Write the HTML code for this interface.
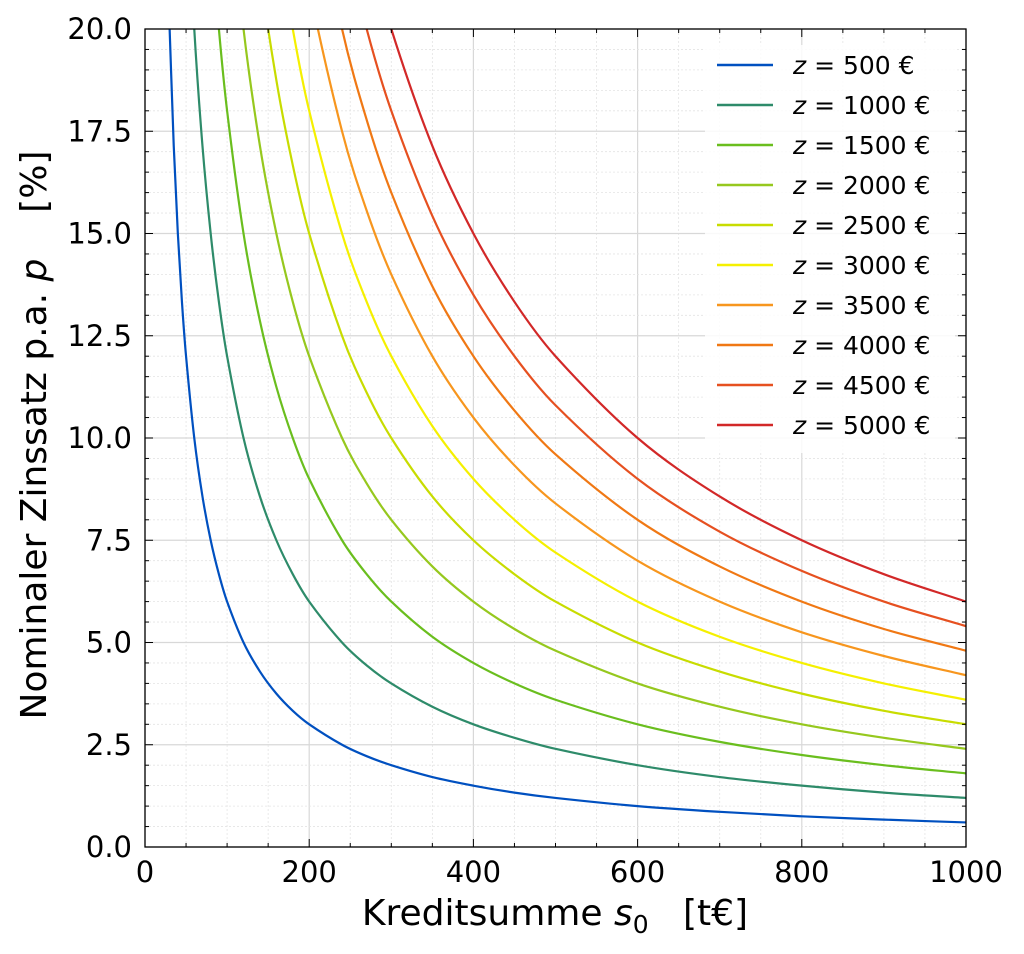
<!DOCTYPE html>
<html><head><meta charset="utf-8"><style>
body{margin:0;background:#fff;}
svg text{font-family:"DejaVu Sans","Liberation Sans",sans-serif;white-space:pre;}
</style></head><body>
<svg id="chart" width="1024" height="949" viewBox="0 0 1024 949">
<defs><clipPath id="pc"><rect x="145" y="29" width="821" height="818"/></clipPath></defs>
<g id="grid"></g>
<g id="series" clip-path="url(#pc)"></g>
<rect x="145" y="29" width="821" height="818" fill="none" stroke="#000" stroke-width="1.3"/>
<g id="ticks"></g>
<g id="legend"></g>
<text x="555" y="925" font-size="36" text-anchor="middle" xml:space="preserve">Kreditsumme <tspan font-style="italic">s</tspan><tspan font-size="25" dy="8">0</tspan><tspan dy="-8">   [t€]</tspan></text>
<text transform="translate(46,435) rotate(-90)" font-size="36" text-anchor="middle" xml:space="preserve">Nominaler Zinssatz p.a. <tspan font-style="italic">p</tspan>    [%]</text>
</svg>
<script>
const xs=[30,35,40,45,50,60,70,80,90,100,120,140,160,180,200,240,270,300,350,400,450,500,600,700,800,900,1000];
const labels=["500","1000","1500","2000","2500","3000","3500","4000","4500","5000"];
const s500=[20,17.14,15,13.33,12,10,8.57,7.5,6.67,6,5,4.29,3.75,3.33,3,2.5,2.22,2,1.71,1.5,1.33,1.2,1,0.86,0.75,0.67,0.6];
const s1000=[40,34.29,30,26.67,24,20,17.14,15,13.33,12,10,8.57,7.5,6.67,6,5,4.44,4,3.43,3,2.67,2.4,2,1.71,1.5,1.33,1.2];
const s1500=[60,51.43,45,40,36,30,25.71,22.5,20,18,15,12.86,11.25,10,9,7.5,6.67,6,5.14,4.5,4,3.6,3,2.57,2.25,2,1.8];
const s2000=[80,68.57,60,53.33,48,40,34.29,30,26.67,24,20,17.14,15,13.33,12,10,8.89,8,6.86,6,5.33,4.8,4,3.43,3,2.67,2.4];
const s2500=[100,85.71,75,66.67,60,50,42.86,37.5,33.33,30,25,21.43,18.75,16.67,15,12.5,11.11,10,8.57,7.5,6.67,6,5,4.29,3.75,3.33,3];
const s3000=[120,102.86,90,80,72,60,51.43,45,40,36,30,25.71,22.5,20,18,15,13.33,12,10.29,9,8,7.2,6,5.14,4.5,4,3.6];
const s3500=[140,120,105,93.33,84,70,60,52.5,46.67,42,35,30,26.25,23.33,21,17.5,15.56,14,12,10.5,9.33,8.4,7,6,5.25,4.67,4.2];
const s4000=[160,137.14,120,106.67,96,80,68.57,60,53.33,48,40,34.29,30,26.67,24,20,17.78,16,13.71,12,10.67,9.6,8,6.86,6,5.33,4.8];
const s4500=[180,154.29,135,120,108,90,77.14,67.5,60,54,45,38.57,33.75,30,27,22.5,20,18,15.43,13.5,12,10.8,9,7.71,6.75,6,5.4];
const s5000=[200,171.43,150,133.33,120,100,85.71,75,66.67,60,50,42.86,37.5,33.33,30,25,22.22,20,17.14,15,13.33,12,10,8.57,7.5,6.67,6];
const xTicks=["0","200","400","600","800","1000"];
const yTicks=["0.0","2.5","5.0","7.5","10.0","12.5","15.0","17.5","20.0"];
const series=[s500,s1000,s1500,s2000,s2500,s3000,s3500,s4000,s4500,s5000];
const colors=["#0050c0","#2e8b6a","#6abe1e","#96c81e","#c8dc00","#f5f000","#f7961e","#f07814","#e65020","#d22828"];
const X=v=>145+v/1000*821, Y=v=>847-v/20*818;
const NS="http://www.w3.org/2000/svg";
function mk(t,a,p){const e=document.createElementNS(NS,t);for(const k in a)e.setAttribute(k,a[k]);p.appendChild(e);return e;}
const g=document.getElementById('grid'),tk=document.getElementById('ticks');
for(let v=0;v<=1000;v+=50){const l=mk('line',{x1:X(v),x2:X(v),y1:29,y2:847,stroke:v%200?'#e4e4e4':'#d8d8d8','stroke-width':v%200?0.8:1.2,'stroke-dasharray':v%200?'2,2':'none'},g);

const len=v%200?4:8;mk('line',{x1:X(v),x2:X(v),y1:847,y2:847-len,stroke:'#000'},tk);mk('line',{x1:X(v),x2:X(v),y1:29,y2:29+len,stroke:'#000'},tk);}
for(let v=0;v<=20.001;v+=0.5){const maj=Math.abs(v/2.5-Math.round(v/2.5))<1e-6;const l=mk('line',{x1:145,x2:966,y1:Y(v),y2:Y(v),stroke:maj?'#d8d8d8':'#e4e4e4','stroke-width':maj?1.2:0.8,'stroke-dasharray':maj?'none':'2,2'},g);

const len=maj?8:4;mk('line',{x1:145,x2:145+len,y1:Y(v),y2:Y(v),stroke:'#000'},tk);mk('line',{x1:966,x2:966-len,y1:Y(v),y2:Y(v),stroke:'#000'},tk);}
xTicks.forEach(t=>{const e=mk('text',{x:X(+t),y:882,'font-size':29,'text-anchor':'middle'},tk);e.textContent=t;});
yTicks.forEach(t=>{const e=mk('text',{x:132,y:Y(+t)+10,'font-size':29,'text-anchor':'end'},tk);e.textContent=t;});
const sg=document.getElementById('series');
series.forEach((s,i)=>{
const n=s.length,m=[];
for(let j=0;j<n;j++){const a=Math.max(0,j-1),b=Math.min(n-1,j+1);m.push((s[b]-s[a])/(xs[b]-xs[a]));}
let d='M'+X(xs[0]).toFixed(2)+','+Y(s[0]).toFixed(2);
for(let j=0;j<n-1;j++){const h=xs[j+1]-xs[j];
d+='C'+X(xs[j]+h/3).toFixed(2)+','+Y(s[j]+m[j]*h/3).toFixed(2)+' '+X(xs[j+1]-h/3).toFixed(2)+','+Y(s[j+1]-m[j+1]*h/3).toFixed(2)+' '+X(xs[j+1]).toFixed(2)+','+Y(s[j+1]).toFixed(2);}
const p=mk('path',{d:d,fill:'none',stroke:colors[i],'stroke-width':2.2},sg);
});
const lg=document.getElementById('legend');
const bx=mk('rect',{x:705,y:45,width:250,height:408,fill:'#fff','fill-opacity':0.85,rx:4},lg);

labels.forEach((t,i)=>{const y=65+i*40;const gg=mk('g',{},lg);

mk('line',{x1:717,x2:773,y1:y,y2:y,stroke:colors[i],'stroke-width':2.5},gg);
const e=mk('text',{x:793,y:y+9,'font-size':25},gg);e.innerHTML='<tspan font-style="italic">z</tspan> = '+t+' €';});
</script>
</body></html>
